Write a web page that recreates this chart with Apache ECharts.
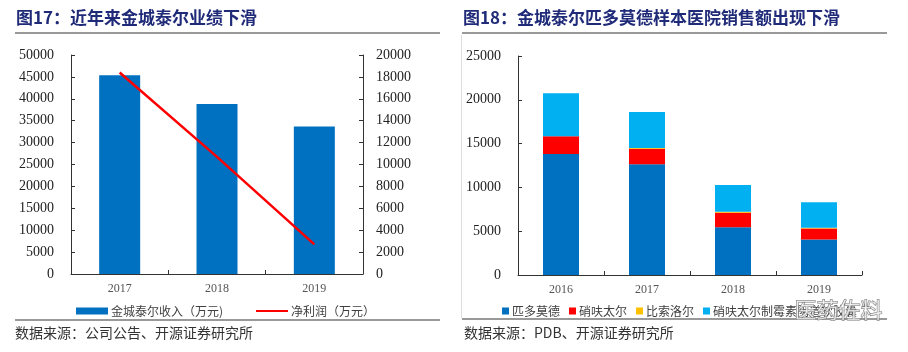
<!DOCTYPE html>
<html>
<head>
<meta charset="utf-8" />
<title></title>
<script src="https://cdn.jsdelivr.net/npm/echarts@6/dist/echarts.min.js"></script>
<style type="text/css">
	html,body{margin:0;padding:0;background:#fff;}
	#main{width:908px;height:352px;}
</style>
</head>
<body>
<div id="main"></div>
<script>
// 图17 data
var years1 = ['2017', '2018', '2019'];
var revenue = [45400, 38800, 33700];   // 金城泰尔收入（万元）
var profit = [18400, 10700, 2700];     // 净利润（万元）

// 图18 data
var years2 = ['2016', '2017', '2018', '2019'];
var pidotimod = [13800, 12650, 5450, 4050];   // 匹多莫德
var nifuratel = [2050, 1750, 1650, 1250];     // 硝呋太尔
var bisoprolol = [0, 100, 120, 100];          // 比索洛尔
var nifNystatin = [4900, 4100, 3050, 2900];   // 硝呋太尔制霉素阴道软胶囊

var serif = '"Liberation Serif", "Times New Roman", serif';
var cjk = '"Noto Sans CJK SC", sans-serif';
var axisLine = {show: true, lineStyle: {color: '#333', width: 1}};

function yAxisCfg(gridIndex, max, interval, pos) {
	return {
		type: 'value', gridIndex: gridIndex, min: 0, max: max, interval: interval,
		position: pos || 'left',
		axisLine: axisLine,
		axisTick: {show: true, inside: true, length: 4, lineStyle: {color: '#333'}},
		splitLine: {show: false},
		axisLabel: {fontFamily: serif, fontSize: 14, color: '#222', margin: pos === 'right' ? 13 : 17,
			formatter: function(v) { return String(v); }}
	};
}
function xAxisCfg(gridIndex, data) {
	return {
		type: 'category', gridIndex: gridIndex, data: data,
		axisLine: axisLine,
		axisTick: {show: true, inside: true, length: 4, lineStyle: {color: '#333'}},
		axisLabel: {fontFamily: serif, fontSize: 12, color: '#555', margin: 9}
	};
}

var myChart = echarts.init(document.getElementById('main'));
var option = {
	animation: false,
	grid: [
		{left: 71, right: 545, top: 55, bottom: 78},
		{left: 518, right: 46, top: 56, bottom: 77}
	],
	xAxis: [xAxisCfg(0, years1), xAxisCfg(1, years2)],
	yAxis: [
		yAxisCfg(0, 50000, 5000),
		yAxisCfg(0, 20000, 2000, 'right'),
		yAxisCfg(1, 25000, 5000)
	],
	legend: [
		{
			left: 71, top: 300, itemWidth: 32, itemHeight: 7, itemGap: 10,
			data: ['金城泰尔收入（万元)'], icon: 'rect',
			textStyle: {fontFamily: cjk, fontSize: 12, color: '#404040', padding: [0, 0, 0, -2]}
		},
		{
			left: 251, top: 300, itemWidth: 32, itemHeight: 2, itemGap: 10,
			data: ['净利润（万元）'], icon: 'rect',
			textStyle: {fontFamily: cjk, fontSize: 12, color: '#404040', padding: [0, 0, 0, -2]}
		},
		{
			left: 497, top: 300, itemWidth: 7, itemHeight: 7, itemGap: 9,
			data: ['匹多莫德', '硝呋太尔', '比索洛尔', '硝呋太尔制霉素阴道软胶囊'], icon: 'rect',
			textStyle: {fontFamily: cjk, fontSize: 12, color: '#404040', padding: [0, 0, 0, -2]}
		}
	],
	series: [
		{name: '金城泰尔收入（万元)', type: 'bar', xAxisIndex: 0, yAxisIndex: 0, barWidth: 41,
			itemStyle: {color: '#0070C0'}, data: revenue},
		{name: '净利润（万元）', type: 'line', xAxisIndex: 0, yAxisIndex: 1, showSymbol: false,
			symbol: 'none', lineStyle: {color: '#FF0000', width: 2.5}, itemStyle: {color: '#FF0000'}, data: profit},
		{name: '匹多莫德', type: 'bar', stack: 'a', xAxisIndex: 1, yAxisIndex: 2, barWidth: 36,
			itemStyle: {color: '#0070C0'}, data: pidotimod},
		{name: '硝呋太尔', type: 'bar', stack: 'a', xAxisIndex: 1, yAxisIndex: 2, barWidth: 36,
			itemStyle: {color: '#FF0000'}, data: nifuratel},
		{name: '比索洛尔', type: 'bar', stack: 'a', xAxisIndex: 1, yAxisIndex: 2, barWidth: 36,
			itemStyle: {color: '#FFC000'}, data: bisoprolol},
		{name: '硝呋太尔制霉素阴道软胶囊', type: 'bar', stack: 'a', xAxisIndex: 1, yAxisIndex: 2, barWidth: 36,
			itemStyle: {color: '#00B0F0'}, data: nifNystatin}
	],
	graphic: [
		// titles
		{type: 'text', left: 16, top: 9, style: {text: '图17：近年来金城泰尔业绩下滑',
			font: 'bold 17px "Noto Sans CJK SC"', fill: '#1F2A78'}},
		{type: 'text', left: 463, top: 9, style: {text: '图18：金城泰尔匹多莫德样本医院销售额出现下滑',
			font: 'bold 17px "Noto Sans CJK SC"', fill: '#1F2A78'}},
		// rules
		{type: 'rect', shape: {x: 15, y: 32, width: 425, height: 2}, style: {fill: '#999'}},
		{type: 'rect', shape: {x: 462, y: 32, width: 425, height: 2}, style: {fill: '#999'}},
		{type: 'rect', shape: {x: 15, y: 319, width: 425, height: 2}, style: {fill: '#999'}},
		{type: 'rect', shape: {x: 462, y: 318, width: 425, height: 2}, style: {fill: '#999'}},
		{type: 'line', shape: {x1: 461.5, y1: 35, x2: 461.5, y2: 318}, style: {stroke: '#ddd', lineWidth: 1}},
		// sources
		{type: 'text', left: 15, top: 326, style: {text: '数据来源：公司公告、开源证券研究所',
			font: '14px "Noto Sans CJK SC"', fill: '#333'}},
		{type: 'text', left: 464, top: 326, style: {text: '数据来源：PDB、开源证券研究所',
			font: '14px "Noto Sans CJK SC"', fill: '#333'}},
		// watermark
		{type: 'text', left: 794, top: 298, z: 100, style: {text: '医药佐料',
			font: '22px "Noto Sans CJK SC"', fill: 'rgba(255,255,255,0.7)', stroke: '#777', lineWidth: 1}}
	]
};
myChart.setOption(option);
</script>
</body>
</html>
